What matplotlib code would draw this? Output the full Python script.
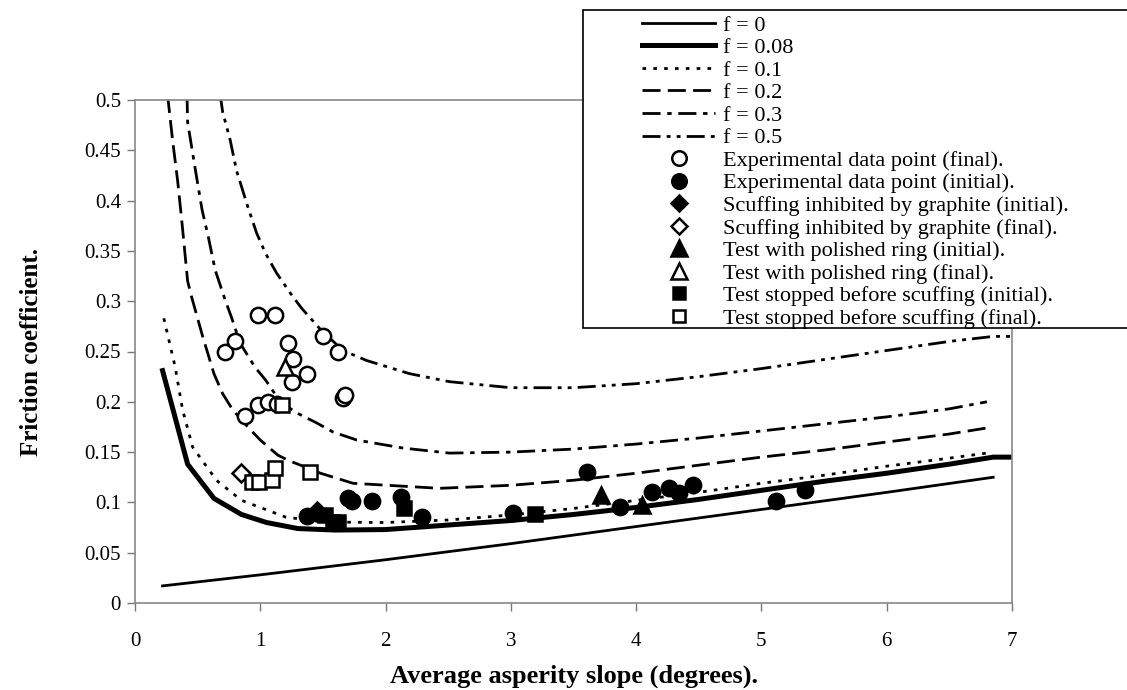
import matplotlib
matplotlib.use('Agg')
import matplotlib.pyplot as plt
from matplotlib.patches import Rectangle

# model curves
f0_x = [0.22, 1.0, 2.0, 3.0, 4.0, 5.0, 6.0, 6.85]
f0_y = [0.017, 0.028, 0.043, 0.059, 0.076, 0.093, 0.110, 0.125]

f008_x = [0.22, 0.42, 0.63, 0.85, 1.05, 1.3, 1.6, 2.0, 2.5, 3.0, 3.5, 4.0,
          4.5, 5.0, 5.5, 6.0, 6.5, 6.85, 7.05]
f008_y = [0.231, 0.138, 0.104, 0.088, 0.080, 0.074, 0.0725, 0.073, 0.0775,
          0.082, 0.088, 0.095, 0.103, 0.112, 0.121, 0.129, 0.138, 0.145, 0.145]

f01_x = [0.23, 0.32, 0.38, 0.46, 0.65, 0.85, 1.2, 1.5, 2.0, 2.5, 3.0, 3.5,
         4.0, 4.5, 5.0, 5.5, 6.0, 6.5, 6.8]
f01_y = [0.283, 0.235, 0.192, 0.155, 0.122, 0.102, 0.0855, 0.0805, 0.080,
         0.0825, 0.0875, 0.094, 0.102, 0.110, 0.119, 0.127, 0.136, 0.144, 0.149]

f02_x = [0.26, 0.30, 0.34, 0.375, 0.42, 0.45, 0.54, 0.63, 0.70, 0.78, 0.90,
         1.0, 1.14, 1.22, 1.48, 1.74, 2.43, 3.0, 3.5, 4.0, 4.5, 5.0, 5.5,
         6.0, 6.5, 6.8]
f02_y = [0.505, 0.46, 0.42, 0.378, 0.32, 0.305, 0.265, 0.228, 0.208, 0.192,
         0.175, 0.162, 0.147, 0.142, 0.129, 0.119, 0.114, 0.117, 0.122,
         0.129, 0.137, 0.145, 0.152, 0.160, 0.168, 0.174]

f03_x = [0.415, 0.42, 0.48, 0.535, 0.585, 0.64, 0.72, 0.77, 0.84, 0.96, 1.04,
         1.16, 1.29, 1.45, 1.58, 1.77, 2.14, 2.51, 3.0, 3.5, 4.0, 4.5, 5.0,
         5.5, 6.0, 6.5, 6.8]
f03_y = [0.505, 0.478, 0.432, 0.391, 0.364, 0.331, 0.301, 0.284, 0.258,
         0.234, 0.222, 0.200, 0.189, 0.179, 0.170, 0.162, 0.154, 0.149,
         0.150, 0.153, 0.158, 0.164, 0.171, 0.178, 0.185, 0.193, 0.200]

f05_x = [0.68, 0.70, 0.76, 0.81, 0.90, 0.97, 1.04, 1.13, 1.24, 1.33, 1.48,
         1.66, 1.85, 2.19, 2.51, 3.0, 3.5, 4.0, 4.5, 5.0, 5.5, 6.0, 6.5,
         6.85, 7.0]
f05_y = [0.505, 0.488, 0.46, 0.43, 0.394, 0.368, 0.348, 0.328, 0.308, 0.293,
         0.272, 0.251, 0.241, 0.228, 0.220, 0.214, 0.214, 0.218, 0.225,
         0.233, 0.242, 0.251, 0.260, 0.265, 0.265]

# experimental points
exp_final_x = [0.98, 1.12, 0.72, 0.80, 1.22, 1.26, 1.37, 1.25, 1.50, 1.62,
               1.66, 1.68, 0.88, 0.98, 1.06, 1.13]
exp_final_y = [0.286, 0.286, 0.250, 0.260, 0.258, 0.243, 0.228, 0.220, 0.265,
               0.250, 0.204, 0.207, 0.186, 0.197, 0.200, 0.198]

exp_init_x = [1.37, 1.70, 1.73, 1.89, 2.12, 2.29, 3.02, 3.61, 3.87, 4.13,
              4.26, 4.34, 4.45, 5.12, 5.35]
exp_init_y = [0.0865, 0.104, 0.101, 0.101, 0.105, 0.0857, 0.0895, 0.130,
              0.0955, 0.110, 0.114, 0.109, 0.117, 0.101, 0.112]

graph_init_x = [1.45]
graph_init_y = [0.091]
graph_final_x = [0.85]
graph_final_y = [0.129]

pol_init_x = [3.72, 4.05]
pol_init_y = [0.107, 0.097]
pol_final_x = [1.20]
pol_final_y = [0.235]

stop_init_x = [1.52, 1.58, 1.62, 2.15, 3.19]
stop_init_y = [0.0875, 0.0805, 0.0805, 0.094, 0.088]
stop_final_x = [0.93, 0.99, 1.09, 1.12, 1.17, 1.40]
stop_final_y = [0.120, 0.120, 0.122, 0.134, 0.197, 0.130]

x_ticks = [0, 1, 2, 3, 4, 5, 6, 7]
y_ticks = [0, 0.05, 0.1, 0.15, 0.2, 0.25, 0.3, 0.35, 0.4, 0.45, 0.5]
y_tick_labels = ['0', '0.05', '0.1', '0.15', '0.2', '0.25', '0.3', '0.35',
                 '0.4', '0.45', '0.5']

plt.rcParams['font.family'] = ['Liberation Serif', 'DejaVu Serif']

fig = plt.figure(figsize=(11.27, 6.9), dpi=100)
ax = fig.add_axes([135 / 1127, 1 - 603 / 690, 877 / 1127, 503 / 690])

lw_thin = 2.0
ax.plot(f0_x, f0_y, color='black', lw=lw_thin, label='f = 0')
ax.plot(f008_x, f008_y, color='black', lw=3.6, label='f = 0.08')
ax.plot(f01_x, f01_y, color='black', lw=lw_thin, dashes=(1.3, 2.6),
        label='f = 0.1')
ax.plot(f02_x, f02_y, color='black', lw=lw_thin, dashes=(6.5, 2.6),
        label='f = 0.2')
ax.plot(f03_x, f03_y, color='black', lw=lw_thin,
        dashes=(6.5, 2.4, 1.6, 2.4), label='f = 0.3')
ax.plot(f05_x, f05_y, color='black', lw=lw_thin,
        dashes=(6.5, 2.2, 1.4, 2.2, 1.4, 2.2), label='f = 0.5')

mk = dict(ls='none', color='black', mew=1.8)
ax.plot(exp_final_x, exp_final_y, marker='o', ms=11, mfc='white',
        label='Experimental data point (final).', **mk)
ax.plot(exp_init_x, exp_init_y, marker='o', ms=11,
        label='Experimental data point (initial).', **mk)
ax.plot(graph_init_x, graph_init_y, marker='D', ms=9,
        label='Scuffing inhibited by graphite (initial).', **mk)
ax.plot(graph_final_x, graph_final_y, marker='D', ms=9, mfc='white',
        label='Scuffing inhibited by graphite (final).', **mk)
ax.plot(pol_init_x, pol_init_y, marker='^', ms=12,
        label='Test with polished ring (initial).', **mk)
ax.plot(pol_final_x, pol_final_y, marker='^', ms=12, mfc='white',
        label='Test with polished ring (final).', **mk)
ax.plot(stop_init_x, stop_init_y, marker='s', ms=9.5,
        label='Test stopped before scuffing (initial).', **mk)
ax.plot(stop_final_x, stop_final_y, marker='s', ms=9.5, mfc='white',
        label='Test stopped before scuffing (final).', **mk)

ax.set_xlim(0, 7)
ax.set_ylim(0, 0.5)
ax.set_xticks(x_ticks)
ax.set_yticks(y_ticks)
ax.set_yticklabels(y_tick_labels)
ax.tick_params(direction='out', length=6, width=1, color='#777777',
               labelsize=15)
ax.tick_params(axis='x', pad=15)
ax.tick_params(axis='y', pad=4)
for sp in ax.spines.values():
    sp.set_color('#888888')
    sp.set_linewidth(1.2)

ax.set_xlabel('Average asperity slope (degrees).', fontsize=19,
              fontweight='bold', labelpad=10)
ax.set_ylabel('Friction coefficient.', fontsize=18, fontweight='bold',
              labelpad=30)

# legend box sits over the top-right of the chart
fig.patches.append(Rectangle((583 / 1127, 1 - 328 / 690), 0.5,
                             318 / 690, transform=fig.transFigure,
                             facecolor='white', edgecolor='black', lw=1.2,
                             zorder=5))
handles, labels = ax.get_legend_handles_labels()
leg = fig.legend(handles, labels, loc='upper left',
                 bbox_to_anchor=(642 / 1127, 1 - 15 / 690),
                 frameon=False, fontsize=16, handlelength=3.3,
                 handletextpad=0.35, labelspacing=0.09, borderpad=0,
                 borderaxespad=0, markerscale=0.95)
leg.set_zorder(6)

fig.savefig('out.png', dpi=100)
